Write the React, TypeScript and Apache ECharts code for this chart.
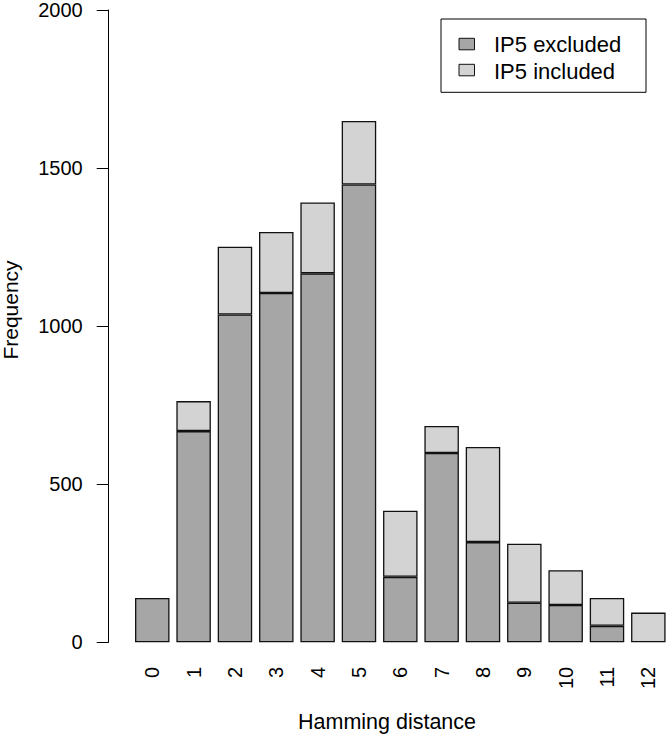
import React, { useEffect, useRef } from "react";
import * as echarts from "echarts";

const categories = ["0", "1", "2", "3", "4", "5", "6", "7", "8", "9", "10", "11", "12"];
const excluded = [140, 668, 1037, 1105, 1167, 1448, 207, 599, 317, 125, 118, 52, 0];
const included = [0, 95, 214, 193, 224, 201, 209, 85, 301, 187, 110, 88, 94];
const seriesNames = ["IP5 excluded", "IP5 included"];
const yTicks = { min: 0, max: 2000, interval: 500 };

const DARK = "#a6a6a6";
const LIGHT = "#d3d3d3";
const EDGE = "#111111";
const FONT = "'Liberation Sans', Arial, Helvetica, sans-serif";

export default function App() {
  const ref = useRef<HTMLDivElement>(null);
  useEffect(() => {
    document.body.style.margin = "0";
    if (!ref.current) return;
    const chart = echarts.init(ref.current, null, { renderer: "svg" });
    const barStyle = (c: string) => ({ color: c, borderColor: EDGE, borderWidth: 1.3 });
    const nz = (arr: number[]) => arr.map((v) => (v === 0 ? null : v));
    chart.setOption({
      animation: false,
      backgroundColor: "#ffffff",
      textStyle: { fontFamily: FONT },
      grid: { left: 131.6, top: 7, width: 538.7, height: 635.3, containLabel: false },
      xAxis: {
        type: "category",
        data: categories,
        axisLine: { show: false },
        axisTick: { show: false },
        axisLabel: { rotate: 90, margin: 24.5, fontSize: 20, color: "#000", fontFamily: FONT, interval: 0 },
        splitLine: { show: false },
      },
      yAxis: {
        type: "value",
        min: yTicks.min,
        max: yTicks.max,
        interval: yTicks.interval,
        offset: 22.9,
        axisLine: { show: true, lineStyle: { color: "#000", width: 1 } },
        axisTick: { show: true, length: 12, inside: false, lineStyle: { color: "#000", width: 1 } },
        axisLabel: {
          margin: 26,
          fontSize: 20,
          color: "#000",
          fontFamily: FONT,
          formatter: (v: number) => String(v),
        },
        splitLine: { show: false },
      },
      series: [
        {
          name: seriesNames[0],
          type: "bar",
          stack: "total",
          data: nz(excluded),
          barWidth: 34.5,
          itemStyle: barStyle(DARK),
        },
        {
          name: seriesNames[1],
          type: "bar",
          stack: "total",
          data: nz(included),
          barWidth: 34.5,
          itemStyle: barStyle(LIGHT),
        },
      ],
      graphic: [
        {
          type: "text",
          x: 10,
          y: 310,
          rotation: Math.PI / 2,
          style: { text: "Frequency", fontSize: 21, fontFamily: FONT, fill: "#000", align: "center", verticalAlign: "middle" },
        },
        {
          type: "text",
          x: 387,
          y: 722,
          style: { text: "Hamming distance", fontSize: 21.5, fontFamily: FONT, fill: "#000", align: "center", verticalAlign: "middle" },
        },
        {
          type: "rect",
          shape: { x: 441, y: 19, width: 205, height: 73.3 },
          style: { fill: "#fff", stroke: "#000", lineWidth: 1 },
          z: 10,
        },
        {
          type: "rect",
          shape: { x: 459, y: 38.3, width: 15.5, height: 11.5 },
          style: { fill: DARK, stroke: EDGE, lineWidth: 1 },
          z: 11,
        },
        {
          type: "rect",
          shape: { x: 459, y: 64.3, width: 15.5, height: 11.5 },
          style: { fill: LIGHT, stroke: EDGE, lineWidth: 1 },
          z: 11,
        },
        {
          type: "text",
          x: 494,
          y: 44.5,
          z: 11,
          style: { text: seriesNames[0], fontSize: 22, fontFamily: FONT, fill: "#000", align: "left", verticalAlign: "middle" },
        },
        {
          type: "text",
          x: 494,
          y: 71,
          z: 11,
          style: { text: seriesNames[1], fontSize: 22, fontFamily: FONT, fill: "#000", align: "left", verticalAlign: "middle" },
        },
      ],
    });
    return () => chart.dispose();
  }, []);
  return <div ref={ref} style={{ width: 669, height: 737 }} />;
}
